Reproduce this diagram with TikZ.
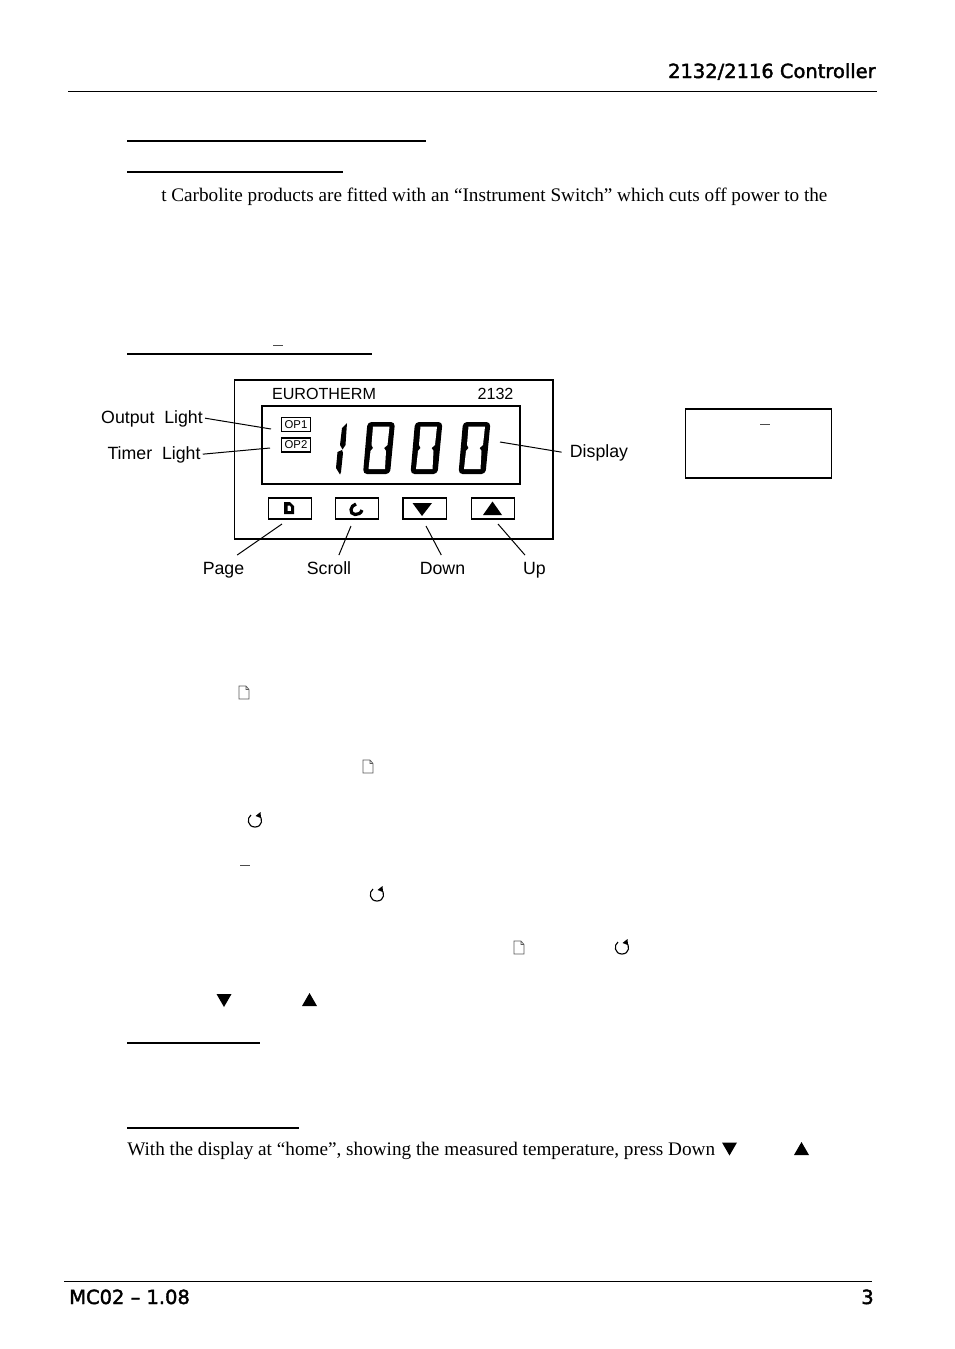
\documentclass[tikz,border=0pt]{standalone}
\usepackage{fontspec}
\setmainfont{Liberation Serif}
\setsansfont{Liberation Sans}
\newfontfamily\pagefont[FakeBold=2]{DejaVu Sans}
\usetikzlibrary{positioning,calc}
\tikzset{
	panelbox/.style={draw, line width=1pt, inner sep=0pt},
	buttonbox/.style={panelbox, minimum width=32.5pt, minimum height=15.75pt},
	opbox/.style={panelbox, line width=.9pt, minimum width=22pt, minimum height=10.5pt, font=\sffamily\fontsize{8.5}{9}\selectfont},
	paneltext/.style={inner sep=0pt, anchor=base, font=\sffamily\fontsize{12.1}{14}\selectfont},
	callout/.style={inner xsep=1.5pt, inner ysep=3pt, anchor=base, text height=11pt, text depth=3pt, font=\sffamily\fontsize{13.3}{15}\selectfont},
	bodytext/.style={inner sep=0pt, anchor=base west, font=\fontsize{14.4}{16}\selectfont},
	pagetext/.style={inner sep=0pt, font=\pagefont\fontsize{14.6}{16}\selectfont},
	leader/.style={line width=.75pt},
	rulerline/.style={line width=1.5pt},
	thinline/.style={line width=.75pt},
	dashmark/.style={line width=.7pt, black!70},
	pics/pageicon/.style={code={
		\draw[line width=.5pt, black!65] (-5,6.5) -- (-5,-6.5) -- (2,-6.5) -- (5,-3) -- (5,6.5) -- cycle (2,-6.5) -- (2,-3) -- (5,-3);
	}},
	pics/scrollicon/.style={code={
		\draw[line width=.85pt] (-4,-5) .. controls (-8.5,-2) and (-7.5,7) .. (0,7) .. controls (7.5,7) and (8.5,-2) .. (3.5,-5);
		\fill (5.5,-8) -- (6,-2) -- (0.5,-4) -- cycle;
	}},
	pics/zeroseg/.style={code={
		\fill[rounded corners=3pt] (-11.5,-26) -- (16,-26) -- (11,26) -- (-16,26) -- cycle;
		\fill[white] (-6,-21.5) -- (10.5,-21.5) -- (8.5,-3) -- (5,0) -- (7,3) -- (6,21) -- (-10.5,21) -- (-8.5,3) -- (-6,0) -- (-7.5,-3) -- cycle;
	}},
	pics/downmark/.style={code={\fill (-7.5,-6) -- (7.5,-6) -- (0,7) -- cycle;}},
	pics/upmark/.style={code={\fill (-7.5,6) -- (7.5,6) -- (0,-7) -- cycle;}}
}

\begin{document}
\begin{tikzpicture}[x=.75pt, y=-.75pt]
	\useasboundingbox (0,0) rectangle (954,1349);

	% page header and footer
	\node (hdr) [pagetext, anchor=base east] at (876,78) {2132/2116 Controller};
	\draw[thinline] (68,91.5) -- (877,91.5);
	\draw[thinline] (64,1281) -- (872,1281);
	\node (ftrl) [pagetext, anchor=base west] at (69,1304) {MC02 – 1.08};
	\node (ftrr) [pagetext, anchor=base east] at (874,1304) {3};

	% headings with their text gone
	\draw[rulerline] (127,141) -- (426,141);
	\draw[rulerline] (127,172) -- (343,172);
	\draw[rulerline] (127,353.5) -- (372,353.5);
	\draw[rulerline] (127,1043) -- (260,1043);
	\draw[rulerline] (127,1128) -- (299,1128);
	\draw[dashmark] (273,345.5) -- (283,345.5);

	\node (para1) [bodytext] at (161,201) {t Carbolite products are fitted with an “Instrument Switch” which cuts off power to the};
	\node (para2) [bodytext] at (127,1155) {With the display at “home”, showing the measured temperature, press Down};

	% controller front panel
	\node (panel) [panelbox, minimum width=239pt, minimum height=119.25pt] at (393.5,459.5) {};
	\node (disp) [panelbox, minimum width=193.5pt, minimum height=58.5pt] at (391,445) {};
	\node (brand) [paneltext] at (324,399.5) {EUROTHERM};
	\node (model) [paneltext] at (495.5,399.5) {2132};
	\node (op1) [opbox] at (296,424.7) {OP1};
	\node (op2) [opbox] at (296,445) {OP2};

	\fill (347,423) -- (345.5,445) -- (342.5,449.5) -- (340,445) -- (342,428) -- cycle;
	\fill (342,450) -- (343,453) -- (341,472) -- (340,474.5) -- (336,468) -- (337.5,452) -- cycle;
	\foreach \x in {379,426.5,474.5}
		\pic at (\x,448) {zeroseg};

	\node (pagebtn) [buttonbox] at (290,508.5) {};
	\node (scrollbtn) [buttonbox] at (357,508.5) {};
	\node (downbtn) [buttonbox] at (424.5,508.5) {};
	\node (upbtn) [buttonbox] at (493,508.5) {};

	\fill[even odd rule] (284,502) -- (290,502) -- (294,506) -- (294,514) -- (284,514) -- cycle
		(287.5,505.5) -- (290,505.5) -- (291,507.5) -- (291,511) -- (287.5,511) -- cycle;
	\draw[line width=2.4pt] (356,504) .. controls (350,505.5) and (349,514) .. (355,514.5) .. controls (358,514.5) and (361,513.5) .. (362,510);
	\fill (412.5,503) -- (432,503) -- (422,516) -- cycle;
	\fill (483,515) -- (502,515) -- (492.5,501.5) -- cycle;

	% callouts
	\node (outlbl) [callout] at (152,423.5) {Output\ \ Light};
	\node (timlbl) [callout] at (154,459.5) {Timer\ \ Light};
	\node (displbl) [callout, inner xsep=6pt] at (599,457.5) {Display};
	\node (pagelbl) [callout] at (223.5,574) {Page};
	\node (scrolllbl) [callout] at (329,574) {Scroll};
	\node (downlbl) [callout] at (442.5,574) {Down};
	\node (uplbl) [callout] at (534.5,574) {Up};

	\coordinate (outtip) at (271,429);
	\coordinate (timtip) at (270,448);
	\coordinate (disptip) at (500,442);
	\coordinate (pagetip) at (282,524);
	\coordinate (scrolltip) at (351,526);
	\coordinate (downtip) at (426,526);
	\coordinate (uptip) at (498,524);

	\draw[leader] (outlbl.east) -- (outtip);
	\draw[leader] (timlbl.east) -- (timtip);
	\draw[leader] (displbl.west) -- (disptip);
	\draw[leader] (pagelbl.45) -- (pagetip);
	\draw[leader] (scrolllbl.54) -- (scrolltip);
	\draw[leader] (downlbl.95) -- (downtip);
	\draw[leader] (uplbl.125) -- (uptip);

	% box at the right
	\node (sidebox) [panelbox, line width=1.1pt, minimum width=109.5pt, minimum height=52pt] at (758.5,443.5) {};
	\draw[dashmark] (760,424.5) -- (770,424.5);

	% key symbols left in the text
	\pic at (244,692.5) {pageicon};
	\pic at (368,766.5) {pageicon};
	\pic at (519,947.5) {pageicon};
	\pic at (255,820) {scrollicon};
	\pic at (377,894) {scrollicon};
	\pic at (622,947) {scrollicon};
	\draw[dashmark] (240,865.5) -- (250,865.5);
	\pic at (224,1000) {downmark};
	\pic at (309.5,1000) {upmark};
	\pic at (729.5,1148.5) {downmark};
	\pic at (801.5,1149) {upmark};
\end{tikzpicture}
\end{document}
